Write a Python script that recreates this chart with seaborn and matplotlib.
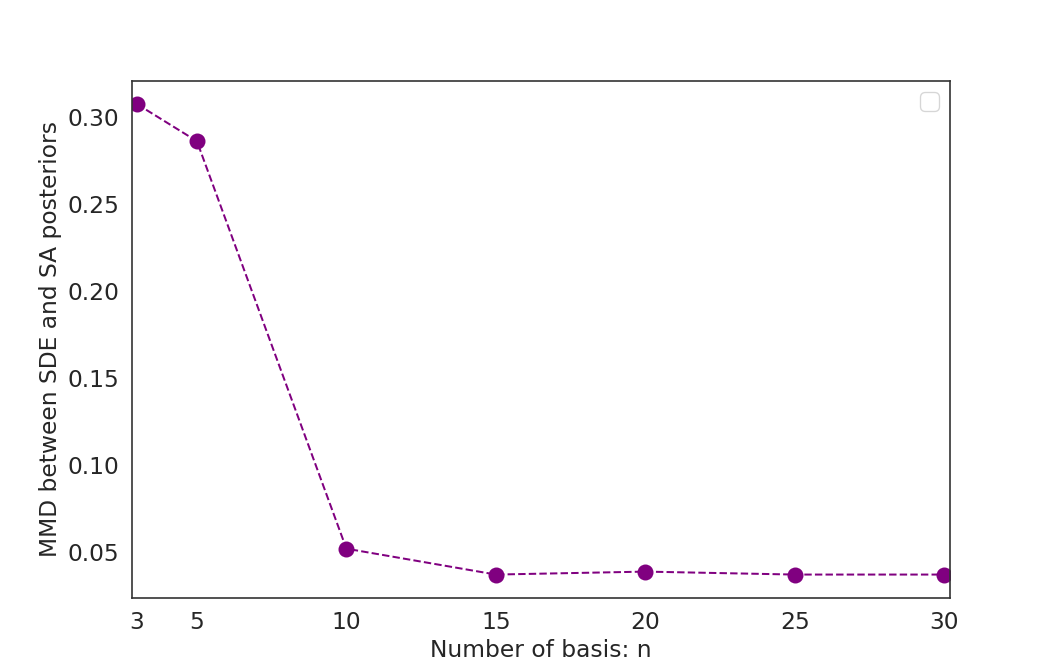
import matplotlib
matplotlib.use("Agg")
import matplotlib.pyplot as plt
import seaborn as sns
import pandas as pd

n_basis = [3, 5, 10, 15, 20, 25, 30]
mmd = [0.3075, 0.2862, 0.0517, 0.0368, 0.0385, 0.0368, 0.0368]

sns.set_theme(style="white")
plt.rcParams['font.family'] = ['DejaVu Sans']
plt.rcParams.update({
    'font.size': 17.5,
    'axes.labelsize': 17.5,
    'xtick.labelsize': 17.5,
    'ytick.labelsize': 17.5,
    'legend.fontsize': 17.5,
    'text.color': '#262626',
    'axes.labelcolor': '#262626',
    'xtick.color': '#262626',
    'ytick.color': '#262626',
})

df = pd.DataFrame({"n": n_basis, "mmd": mmd})

fig, ax = plt.subplots(figsize=(11, 7), dpi=96)
sns.lineplot(data=df, x="n", y="mmd", ax=ax, color="purple", marker="o",
             markersize=12, linestyle="--", linewidth=1.5, markeredgewidth=0)
ax.set_xticks(n_basis)
ax.set_xlim(2.83, 30.2)
ax.set_xlabel("Number of basis: n", labelpad=4)
ax.set_ylabel("MMD between SDE and SA posteriors")
for s in ax.spines.values():
    s.set_color("#333333")
ax.legend()
fig.savefig("out.png", dpi=96)
